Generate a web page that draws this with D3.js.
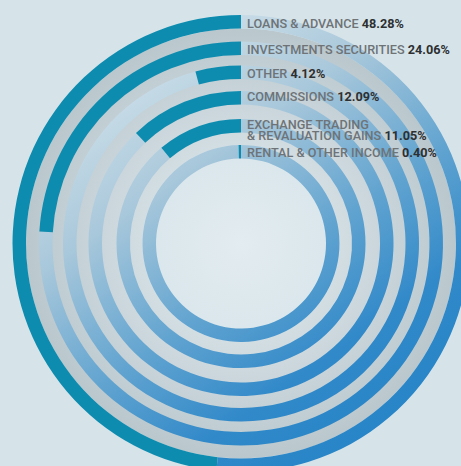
<!DOCTYPE html>
<html>
<head>
<meta charset="UTF-8">
<title>Income breakdown</title>
<style>
  body { margin: 0; background: #d6e4e9; }
  svg { display: block; }
</style>
</head>
<body>
<svg id="chart" width="461" height="466"></svg>
<script src="https://d3js.org/d3.v7.min.js"></script>
<script>
// the data
var categories = [
  ["LOANS & ADVANCE"],
  ["INVESTMENTS SECURITIES"],
  ["OTHER"],
  ["COMMISSIONS"],
  ["EXCHANGE TRADING", "& REVALUATION GAINS"],
  ["RENTAL & OTHER INCOME"]
];
var shares = [48.28, 24.06, 4.12, 12.09, 11.05, 0.40];
var shareLabels = ["48.28%", "24.06%", "4.12%", "12.09%", "11.05%", "0.40%"];

// layout (pixels)
var cx = 241, cy = 243.5, band = 13.5;
var outerR = [228.5, 202, 178, 152.5, 124.5, 98.5];
var labelBase = [28.3, 54.3, 78.3, 101, 129.3, 156.7];
var labelX = 247;

var svg = d3.select("#chart");
var W = +svg.attr("width"), H = +svg.attr("height");

var angle = d3.scaleLinear().domain([0, 100]).range([0, 2 * Math.PI]);

var defs = svg.append("defs");

// blue gradient for the rest of each ring (group coordinates, centre = 0,0)
var blue = defs.append("linearGradient")
  .attr("id", "restGrad")
  .attr("gradientUnits", "userSpaceOnUse")
  .attr("x1", -150).attr("y1", -200)
  .attr("x2", 150).attr("y2", 230);
[[0, "#dbe8ee"], [0.3, "#a9c8db"], [0.55, "#60a3d0"], [0.75, "#3189c9"], [1, "#2383c6"]]
  .forEach(function(s) { blue.append("stop").attr("offset", s[0]).attr("stop-color", s[1]); });

// grey gradient for the gaps between rings
var grey = defs.append("radialGradient")
  .attr("id", "gapGrad")
  .attr("gradientUnits", "userSpaceOnUse")
  .attr("cx", 0).attr("cy", 0).attr("r", outerR[0]);
[[0.4, "#d4dfe4"], [1, "#b7c5ca"]]
  .forEach(function(s) { grey.append("stop").attr("offset", s[0]).attr("stop-color", s[1]); });

var inner = defs.append("radialGradient")
  .attr("id", "innerGrad")
  .attr("gradientUnits", "userSpaceOnUse")
  .attr("cx", 0).attr("cy", 0).attr("r", outerR[5]);
[[0, "#e3ecf0"], [1, "#d9e6eb"]]
  .forEach(function(s) { inner.append("stop").attr("offset", s[0]).attr("stop-color", s[1]); });

svg.append("rect").attr("width", W).attr("height", H).attr("fill", "#d6e4e9");

var g = svg.append("g").attr("transform", "translate(" + cx + "," + cy + ")");

var arc = d3.arc();

g.append("circle").attr("r", outerR[5]).attr("fill", "url(#innerGrad)");

// gaps
g.append("path")
  .attr("d", arc({innerRadius: outerR[5], outerRadius: outerR[0] - band, startAngle: 0, endAngle: 2 * Math.PI}))
  .attr("fill", "url(#gapGrad)");

var rings = g.selectAll("g.ring")
  .data(shares)
  .enter().append("g")
  .attr("class", "ring");

// rest of ring (clockwise from top)
rings.append("path")
  .attr("d", function(d, i) {
    return arc({innerRadius: outerR[i] - band, outerRadius: outerR[i],
      startAngle: 0, endAngle: 2 * Math.PI - angle(d)});
  })
  .attr("fill", "url(#restGrad)");

// share arc (counter-clockwise from top)
rings.append("path")
  .attr("d", function(d, i) {
    return arc({innerRadius: outerR[i] - band, outerRadius: outerR[i],
      startAngle: -angle(d), endAngle: 0});
  })
  .attr("fill", "#0e8cb0");

// labels, squeezed a little to match the narrow original face
var labels = svg.append("g")
  .attr("transform", "translate(" + labelX + ",0) scale(0.975,1)")
  .attr("font-family", "Roboto, 'Noto Sans', sans-serif")
  .attr("font-size", 13);

categories.forEach(function(lines, i) {
  var t = labels.append("text")
    .attr("x", 0)
    .attr("y", labelBase[i]);
  lines.forEach(function(line, j) {
    var ts = t.append("tspan")
      .attr("fill", "#6e7377")
      .attr("font-weight", 500)
      .text(line);
    if (j > 0) ts.attr("x", 0).attr("dy", 10.7);
  });
  t.append("tspan")
    .attr("fill", "#2d2f31")
    .attr("font-weight", 700)
    .text(" " + shareLabels[i]);
});
</script>
</body>
</html>
